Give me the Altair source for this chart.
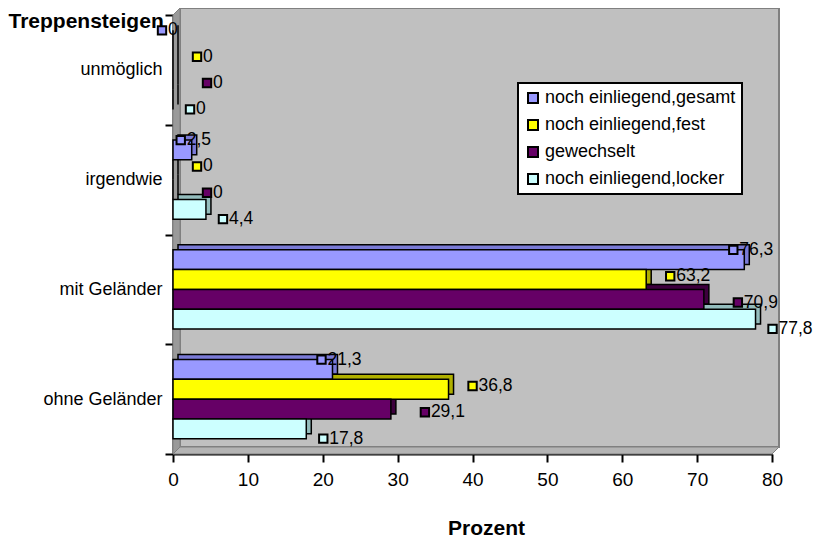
import altair as alt
import pandas as pd

categories = ["unmöglich", "irgendwie", "mit Geländer", "ohne Geländer"]
series = ["noch einliegend,gesamt", "noch einliegend,fest", "gewechselt", "noch einliegend,locker"]
gesamt = [0, 2.5, 76.3, 21.3]
fest = [0, 0, 63.2, 36.8]
gewechselt = [0, 0, 70.9, 29.1]
locker = [0, 4.4, 77.8, 17.8]
x_ticks = [0, 10, 20, 30, 40, 50, 60, 70, 80]

colors = ["#9999FF", "#FFFF00", "#660066", "#CCFFFF"]
shades = ["#7A7AD6", "#B0B000", "#3D003D", "#94BDBD"]
label_dx = [-11, 24, 34, 17]

FONT = "Liberation Sans"
W, H = 599, 439
D = 7      # wall depth
BD = 5     # bar depth
STEP = H / len(categories)
PO = STEP * 0.14
BW = STEP * 0.72

rows = []
for vals, s in zip([gesamt, fest, gewechselt, locker], series):
    for c, v in zip(categories, vals):
        rows.append({"category": c, "series": s, "value": v})
df = pd.DataFrame(rows)

xenc = alt.X("value:Q", scale=alt.Scale(domain=[0, 80], nice=False, zero=True),
             axis=alt.Axis(values=x_ticks, tickSize=8, tickWidth=2, tickColor="black",
                           domainColor="black", domainWidth=2, labelFontSize=19,
                           labelPadding=8, labelColor="black", labelFont=FONT, grid=False,
                           title="Prozent", titleFont=FONT, titleFontSize=21,
                           titleFontWeight="bold", titleColor="black", titleX=313,
                           titleY=80, titleBaseline="alphabetic", labelFlush=False))
yenc = alt.Y("category:N", sort=categories,
             scale=alt.Scale(domain=categories, paddingInner=0, paddingOuter=0),
             axis=alt.Axis(tickBand="extent", tickSize=8, tickWidth=2, tickColor="black",
                           domainColor="black", domainWidth=2, labelFontSize=18,
                           labelPadding=3, labelColor="black", labelFont=FONT, grid=False,
                           title="Treppensteigen", titleAngle=0, titleAlign="left",
                           titleX=-165, titleY=12, titleBaseline="alphabetic",
                           titleFont=FONT, titleFontSize=21, titleFontWeight="bold",
                           titleColor="black"))

def yoff(shift=0):
    return alt.YOffset("series:N", sort=series,
                       scale=alt.Scale(domain=series, range=[PO - shift, PO + BW - shift],
                                       paddingInner=0, paddingOuter=0))

# walls
wall = alt.Chart(pd.DataFrame({"a": [0]})).mark_rect(
    fill="#C0C0C0", stroke="#808080", strokeWidth=2).encode(
    x=alt.value(D), x2=alt.value(W + D), y=alt.value(-D), y2=alt.value(H - D))

side_df = pd.DataFrame({"px": [0, D], "py": [0, -D], "py2": [H, H - D]})
side = alt.Chart(side_df).mark_area(fill="#9A9A9A", stroke="#808080", strokeWidth=1).encode(
    x=alt.X("px:Q", scale=None, axis=None),
    y=alt.Y("py:Q", scale=None, axis=None), y2="py2:Q")

floor_df = pd.DataFrame({"px": [0, D, W, W + D], "py": [H, H - D, H - D, H - D],
                         "py2": [H, H, H, H - D]})
floor = alt.Chart(floor_df).mark_area(fill="#B4B4B4", stroke="#808080", strokeWidth=1).encode(
    x=alt.X("px:Q", scale=None, axis=None),
    y=alt.Y("py:Q", scale=None, axis=None), y2="py2:Q")

back = alt.Chart(df).mark_bar(stroke="black", strokeWidth=1.5, xOffset=BD, x2Offset=BD).encode(
    x=xenc, y=yenc, yOffset=yoff(BD),
    fill=alt.Fill("series:N", sort=series, scale=alt.Scale(domain=series, range=shades),
                  legend=None))

front = alt.Chart(df).mark_bar(stroke="black", strokeWidth=1.5).encode(
    x=xenc, y=yenc, yOffset=yoff(0),
    color=alt.Color("series:N", sort=series, scale=alt.Scale(domain=series, range=colors),
                    legend=alt.Legend(title=None, orient="none", legendX=345, legendY=68,
                                      fillColor="white", strokeColor="black",
                                      symbolType="square", symbolSize=100,
                                      symbolStrokeColor="black", symbolStrokeWidth=2,
                                      labelFontSize=18, labelFont=FONT, labelColor="black",
                                      labelLimit=400, rowPadding=9, padding=6,
                                      labelOffset=3)))

labels = []
for s, dx in zip(series, label_dx):
    base = alt.Chart(df).transform_filter(alt.datum.series == s).transform_calculate(
        txt="replace(format(datum.value, '.1~f'), '.', ',')")
    sq = base.mark_square(size=70, filled=True, stroke="black", strokeWidth=2,
                          opacity=1, xOffset=dx).encode(
        x=xenc, y=yenc, yOffset=yoff(0),
        color=alt.Color("series:N", scale=alt.Scale(domain=series, range=colors), legend=None))
    tx = base.mark_text(align="left", baseline="middle", xOffset=dx, dx=6, fontSize=17.5,
                        font=FONT, color="black").encode(
        x=xenc, y=yenc, yOffset=yoff(0), text="txt:N")
    labels += [sq, tx]

chart = alt.layer(wall, side, floor, back, front, *labels).resolve_scale(
    yOffset="independent", color="independent", fill="independent"
).properties(
    width=W, height=H,
    autosize=alt.AutoSizeParams(type="none"),
    padding={"left": 165, "top": 7, "right": 41, "bottom": 83},
    background="white",
).configure_view(stroke=None).configure_legend(strokeWidth=2)

chart.save("out.html", embed_options={"renderer": "svg", "actions": False})
